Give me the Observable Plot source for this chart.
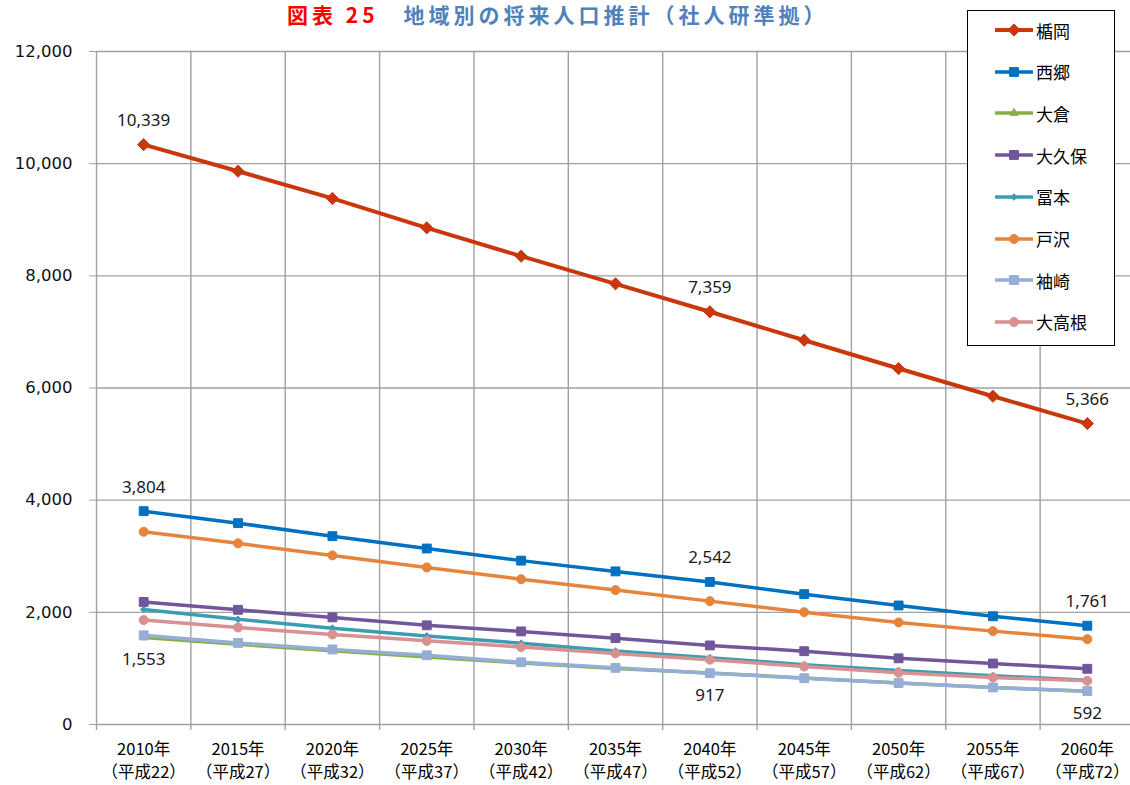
<!DOCTYPE html>
<html>
<head>
<meta charset="utf-8">
<script src="https://cdn.jsdelivr.net/npm/d3@7"></script>
<script src="https://cdn.jsdelivr.net/npm/@observablehq/plot@0.6"></script>
<style>
  body { margin: 0; background: #fff; }
  #wrap { position: relative; width: 1130px; height: 785px; overflow: hidden; background: #fff; }
  #title { position: absolute; top: 2px; left: 287px; white-space: nowrap; font-family: "Noto Sans CJK JP"; font-weight: 700; font-size: 21px; line-height: 24px; letter-spacing: 4px; color: #4F81BD; }
  #title .red { color: #FF0000; }
  #chart { position: absolute; left: 0; top: 0; }
  #legend { position: absolute; left: 967px; top: 10px; width: 148px; height: 336px; box-sizing: border-box; border: 1px solid #000; background: #fff; }
  .row { position: absolute; left: 0; height: 20px; display: flex; align-items: center; font-family: "Noto Sans CJK JP"; font-size: 17px; color: #000; }
  .row svg { display: block; margin-left: 27px; margin-right: 3px; }
</style>
</head>
<body>
<div id="wrap">
  <div id="chart"></div>
  <div id="title"><span class="red">図表 25</span>　地域別の将来人口推計（社人研準拠）</div>
  <div id="legend"></div>
</div>
<script>
// ---- data ----
const years = [2010, 2015, 2020, 2025, 2030, 2035, 2040, 2045, 2050, 2055, 2060];
const heisei = ["平成22", "平成27", "平成32", "平成37", "平成42", "平成47", "平成52", "平成57", "平成62", "平成67", "平成72"];
const areas = ["楯岡", "西郷", "大倉", "大久保", "冨本", "戸沢", "袖崎", "大高根"];
const tateoka  = [10339, 9865, 9380, 8856, 8350, 7858, 7359, 6852, 6347, 5853, 5366];
const nishigo  = [3804, 3590, 3358, 3138, 2922, 2730, 2542, 2324, 2122, 1930, 1761];
const okura    = [1553, 1430, 1315, 1205, 1095, 1000, 917, 830, 740, 660, 592];
const okubo    = [2185, 2045, 1910, 1768, 1660, 1540, 1410, 1307, 1180, 1088, 993];
const tomimoto = [2050, 1875, 1718, 1580, 1450, 1310, 1192, 1065, 965, 870, 790];
const tozawa   = [3436, 3230, 3015, 2800, 2590, 2397, 2200, 2003, 1820, 1665, 1522];
const sodesaki = [1590, 1455, 1338, 1234, 1110, 1010, 915, 825, 738, 660, 595];
const otakane  = [1862, 1730, 1605, 1492, 1380, 1268, 1156, 1034, 922, 838, 779];
const seriesValues = [tateoka, nishigo, okura, okubo, tomimoto, tozawa, sodesaki, otakane];
const yTicks = [0, 2000, 4000, 6000, 8000, 10000, 12000];
// annotated points: [area, year]
const labelsAbove = [["楯岡", 2010], ["楯岡", 2040], ["楯岡", 2060], ["西郷", 2010], ["西郷", 2040], ["西郷", 2060]];
const labelsBelow = [["大倉", 2010], ["大倉", 2040], ["大倉", 2060]];

// ---- styles ----
const styles = [
  {color: "#C8380C", symbol: "diamond2", r: 5.5, sw: 4},
  {color: "#0070C0", symbol: "square", r: 5, sw: 3.5},
  {color: "#8AAE47", symbol: "triangle", r: 3, sw: 3.5},
  {color: "#71569B", symbol: "square", r: 5, sw: 3.5},
  {color: "#3D9CB4", symbol: "diamond2", r: 3, sw: 3.5},
  {color: "#E5843C", symbol: "circle", r: 4.5, sw: 3.5},
  {color: "#95AED6", symbol: "square", r: 5, sw: 3.5},
  {color: "#D89090", symbol: "circle", r: 4.5, sw: 3.5}
];

const rowsFor = i => years.map((y, j) => ({area: areas[i], year: y, value: seriesValues[i][j]}));
const lookup = ([a, y]) => ({area: a, year: y, value: seriesValues[areas.indexOf(a)][years.indexOf(y)]});
const above = labelsAbove.map(lookup);
const below = labelsBelow.map(lookup);
const bounds = years.map(y => y - 2.5).concat([years[years.length - 1] + 2.5]);
const fmt = d3.format(",");

const marks = [
  Plot.ruleY(yTicks, {stroke: "#A0A0A0", strokeWidth: 1.4}),
  Plot.ruleX(bounds, {stroke: "#A0A0A0", strokeWidth: 1.4, insetBottom: -6}),
];
areas.forEach((a, i) => {
  const s = styles[i];
  const rows = rowsFor(i);
  marks.push(Plot.line(rows, {x: "year", y: "value", stroke: s.color, strokeWidth: s.sw}));
  marks.push(Plot.dot(rows, {x: "year", y: "value", symbol: () => s.symbol, r: s.r, fill: s.color, stroke: s.color, strokeWidth: 1}));
});
marks.push(
  Plot.text(above, {x: "year", y: "value", text: d => fmt(d.value), dy: -24, fontSize: 17, fontFamily: "Noto Sans", fill: "#1a1a1a"}),
  Plot.text(below, {x: "year", y: "value", text: d => fmt(d.value), dy: 22, fontSize: 17, fontFamily: "Noto Sans", fill: "#1a1a1a"}),
  Plot.axisY({ticks: yTicks, tickFormat: fmt, tickSize: 7, tickPadding: 17, stroke: "#A0A0A0", fontSize: 16.5, fontFamily: "DejaVu Sans", fill: "#111", label: null}),
  Plot.axisX({ticks: years, tickFormat: d => `${d}年\n（${heisei[years.indexOf(d)]}）`, tickSize: 0, tickPadding: 14, fontSize: 16.5, lineHeight: 1.4, fontFamily: "Noto Sans CJK JP", fill: "#000", label: null})
);

const chart = Plot.plot({
  width: 1130,
  height: 785,
  marginTop: 51,
  marginBottom: 61,
  marginLeft: 96,
  marginRight: 0,
  style: {fontFamily: "Noto Sans CJK JP", fontSize: "16px", background: "transparent", overflow: "visible"},
  x: {type: "linear", domain: [bounds[0], bounds[bounds.length - 1]], range: [96, 1134]},
  y: {domain: [0, 12000]},
  marks
});
document.getElementById("chart").appendChild(chart);

// ---- legend ----
const legend = d3.select("#legend");
areas.forEach((a, i) => {
  const s = styles[i];
  const row = legend.append("div").attr("class", "row").style("top", `${9 + i * 41.7}px`);
  const svg = row.append("svg").attr("width", 38).attr("height", 14);
  svg.append("line").attr("x1", 1).attr("x2", 37).attr("y1", 7).attr("y2", 7)
    .attr("stroke", s.color).attr("stroke-width", s.sw).attr("stroke-linecap", "round");
  const symMap = {diamond2: d3.symbolDiamond2, square: d3.symbolSquare, triangle: d3.symbolTriangle, circle: d3.symbolCircle};
  svg.append("path").attr("transform", "translate(19,7)")
    .attr("d", d3.symbol(symMap[s.symbol], Math.PI * s.r * s.r)())
    .attr("fill", s.color).attr("stroke", s.color);
  row.append("span").text(a);
});
</script>
</body>
</html>
